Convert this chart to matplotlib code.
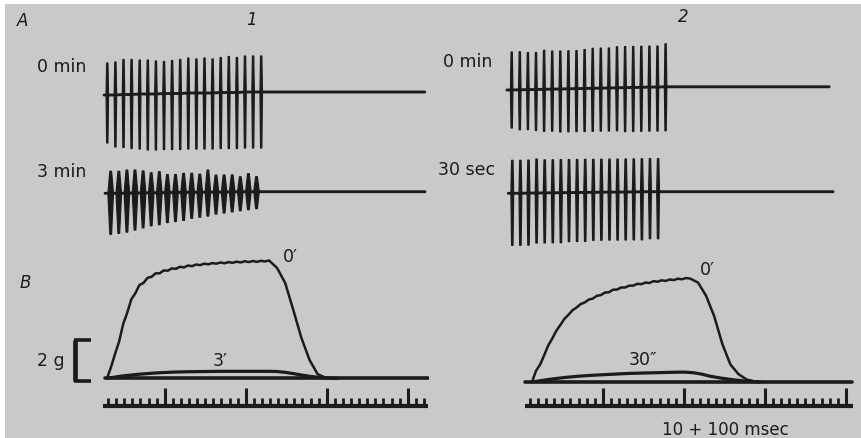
import matplotlib
matplotlib.use("Agg")
import matplotlib.pyplot as plt

# ---------------- figure / style ----------------
W, H, DPI = 862, 438, 100
BG = "#c9c9c9"
INK = "#1b1b1b"
PX_PER_MS = 0.81      # horizontal scale (pixels per ms)
PX_PER_G = 20.5       # tension scale (pixels per gram)
PX_PER_UNIT = 1.0     # spike amplitude scale (pixels per arbitrary unit)

# ---------------- data: panel A (spike trains, arb. units) ----------------
stim_interval_ms = 10

a1_0_up = [32, 33, 35, 35, 34, 34, 33, 32, 33, 34, 35, 34, 35, 34, 35, 36, 35, 36, 36, 36]
a1_0_down = [-48, -52, -53, -54, -55, -56, -56, -56, -56, -56, -56, -56, -56, -56, -56, -56, -56, -56, -56, -56]
a1_0_base = [0, 0, 0.5, 0.5, 1, 1, 1, 1.5, 1.5, 1.5, 2, 2, 2, 2, 2.5, 2.5, 2.5, 3, 3, 3]
a1_0_window = (-4, 392)

a1_3_up = [22, 22, 23, 23, 22, 20, 21, 18, 18, 19, 19, 18, 22, 17, 17, 17, 15, 18, 15]
a1_3_down = [-41, -40, -39, -37, -35, -33, -32, -30, -29, -28, -26, -25, -24, -22, -21, -20, -19, -18, -17]
a1_3_base = [0, 0, 0.2, 0.3, 0.4, 0.5, 0.6, 0.7, 0.8, 0.9, 1, 1.1, 1.2, 1.2, 1.3, 1.4, 1.5, 1.6, 1.6]
a1_3_window = (-7, 388)

a2_0_up = [38, 38, 37, 37, 39, 38, 38, 38, 38, 39, 40, 40, 40, 41, 41, 41, 41, 41, 41, 43]
a2_0_down = [-38, -40, -40, -41, -42, -42, -43, -43, -43, -43, -43, -43, -43, -43, -44, -44, -44, -44, -44, -44]
a2_0_base = [0, 0.2, 0.4, 0.5, 0.7, 0.9, 1, 1.2, 1.4, 1.5, 1.7, 1.9, 2, 2.2, 2.4, 2.5, 2.7, 2.9, 3, 3.2]
a2_0_window = (-6, 392)

a2_30_up = [33, 33, 33, 34, 33, 33, 33, 33, 33, 33, 33, 33, 33, 33, 33, 33, 33, 33, 33]
a2_30_down = [-52, -52, -52, -50, -50, -50, -50, -49, -49, -49, -48, -48, -48, -48, -48, -48, -48, -47, -47]
a2_30_base = [0, 0, 0.2, 0.3, 0.4, 0.5, 0.6, 0.7, 0.8, 0.9, 1, 1.1, 1.2, 1.2, 1.3, 1.4, 1.5, 1.6, 1.6]
a2_30_window = (-5, 396)

# ---------------- data: panel B (tension, g; time, ms) ----------------
b1_0_t = [0, 5, 10, 15, 20, 25, 30, 35, 40, 45, 50, 55, 60, 65, 70, 75, 80, 85, 90, 95,
          100, 105, 110, 115, 120, 125, 130, 135, 140, 145, 150, 155, 160, 165, 170, 175,
          180, 185, 190, 195, 200, 210, 220, 230, 240, 250, 260, 270, 280]
b1_0_g = [0.00, 0.55, 1.20, 1.80, 2.65, 3.20, 3.85, 4.15, 4.55, 4.65, 4.90, 4.95, 5.12, 5.12,
          5.26, 5.25, 5.36, 5.34, 5.44, 5.41, 5.50, 5.47, 5.55, 5.52, 5.59, 5.56, 5.62, 5.59,
          5.65, 5.61, 5.67, 5.63, 5.69, 5.65, 5.71, 5.67, 5.72, 5.68, 5.73, 5.70, 5.75,
          5.38, 4.65, 3.33, 1.97, 0.90, 0.20, 0.03, 0.00]
b1_3_t = [0, 20, 40, 60, 80, 100, 120, 140, 160, 180, 200, 210, 220, 230, 240, 250, 260, 270, 285]
b1_3_g = [0, 0.12, 0.20, 0.26, 0.30, 0.32, 0.33, 0.34, 0.34, 0.34, 0.34, 0.33, 0.29, 0.23,
          0.16, 0.10, 0.05, 0.02, 0]
b1_window = (-2.5, 396)

b2_0_t = [0, 5, 10, 15, 20, 25, 30, 35, 40, 45, 50, 55, 60, 65, 70, 75, 80, 85, 90, 95,
          100, 105, 110, 115, 120, 125, 130, 135, 140, 145, 150, 155, 160, 165, 170, 175,
          180, 185, 190, 195, 205, 215, 225, 235, 245, 255, 265, 275, 285]
b2_0_g = [0.00, 0.55, 0.85, 1.30, 1.78, 2.12, 2.50, 2.78, 3.08, 3.28, 3.50, 3.63, 3.80, 3.88,
          4.02, 4.07, 4.20, 4.24, 4.36, 4.38, 4.50, 4.51, 4.61, 4.61, 4.70, 4.70, 4.79, 4.77,
          4.85, 4.83, 4.92, 4.89, 4.96, 4.93, 5.00, 4.97, 5.04, 5.01, 5.07, 5.05,
          4.85, 4.20, 3.20, 1.85, 0.85, 0.38, 0.12, 0.03, 0.00]
b2_30_t = [0, 20, 40, 60, 80, 100, 120, 140, 160, 180, 190, 200, 210, 220, 235, 250, 265, 280]
b2_30_g = [0, 0.12, 0.22, 0.29, 0.34, 0.38, 0.42, 0.44, 0.46, 0.48, 0.48, 0.45, 0.38, 0.28,
           0.18, 0.10, 0.04, 0]
b2_window = (-8.6, 395)

# time markers (ms): 10 ms ticks, 100 ms ticks
b1_marker_ticks = list(range(0, 400, 10))
b1_marker_big = [70, 170, 270, 370]
b1_marker_window = (-6, 395)
b2_marker_ticks = list(range(0, 400, 10))
b2_marker_big = [90, 190, 290, 390]
b2_marker_window = (-6, 399)

scale_bar_g = 2

# ---------------- helpers ----------------
fig = plt.figure(figsize=(W / DPI, H / DPI), dpi=DPI, facecolor="white")

bg = fig.add_axes([0, 0, 1, 1])
bg.set_xlim(0, W)
bg.set_ylim(H, 0)
bg.axis("off")
bg.add_patch(plt.Rectangle((5, 4), W - 5, H - 4, facecolor=BG, edgecolor="none"))


def trace_axes(x0, y0, tmin, tmax, vmin, vmax, sx, sy):
    """Axes whose data (t, v) map with origin at pixel (x0, y0)."""
    left = x0 + tmin * sx
    right = x0 + tmax * sx
    top = y0 - vmax * sy
    bottom = y0 - vmin * sy
    ax = fig.add_axes([left / W, 1 - bottom / H, (right - left) / W, (bottom - top) / H])
    ax.set_xlim(tmin, tmax)
    ax.set_ylim(vmin, vmax)
    ax.axis("off")
    ax.patch.set_alpha(0)
    return ax


def spike_trace(x0, y0, up, down, base, window, half_w, tip_frac, lw=1.6):
    ax = trace_axes(x0, y0, window[0] - 2, window[1] + 2, -70, 50, PX_PER_MS, PX_PER_UNIT)
    ts = [i * stim_interval_ms for i in range(len(up))]
    bt = [window[0]] + ts + [window[1]]
    bv = [base[0]] + list(base) + [base[-1]]
    ax.plot(bt, bv, color=INK, lw=lw * 1.3, solid_capstyle="round", clip_on=False)
    for t, u, d, b in zip(ts, up, down, base):
        for tip in (u, d):
            xs = [t - half_w, t - tip_frac * half_w, t + tip_frac * half_w, t + half_w]
            ys = [b, b + tip, b + tip, b]
            ax.fill(xs, ys, color=INK, lw=0.9, edgecolor=INK, joinstyle="round",
                    clip_on=False)
    return ax


# ---------------- panel A ----------------
spike_trace(107.3, 95.0, a1_0_up, a1_0_down, a1_0_base, a1_0_window, 1.5, 0.5)
spike_trace(110.7, 193.3, a1_3_up, a1_3_down, a1_3_base, a1_3_window, 3.4, 0.3)
spike_trace(511.7, 90.0, a2_0_up, a2_0_down, a2_0_base, a2_0_window, 1.5, 0.5)
spike_trace(512.3, 193.3, a2_30_up, a2_30_down, a2_30_base, a2_30_window, 1.7, 0.5)


# ---------------- panel B ----------------
def tension_panel(x0, y0, t0, g0, t1, g1, window):
    ax = trace_axes(x0, y0, -50, window[1] + 2, -0.5, 6.5, PX_PER_MS, PX_PER_G)
    ax.plot([window[0], window[1]], [0, 0], color=INK, lw=2.6, solid_capstyle="round")
    ax.plot(t0, g0, color=INK, lw=1.8, solid_joinstyle="round", solid_capstyle="round")
    ax.plot(t1, g1, color=INK, lw=2.3, solid_joinstyle="round", solid_capstyle="round")
    return ax


axb1 = tension_panel(107.0, 378.3, b1_0_t, b1_0_g, b1_3_t, b1_3_g, b1_window)
tension_panel(532.0, 382.0, b2_0_t, b2_0_g, b2_30_t, b2_30_g, b2_window)

# 2 g scale bracket (in B1 data units)
bx = -39.5
axb1.plot([bx, bx], [-0.15, -0.15 + scale_bar_g], color=INK, lw=3.4,
          solid_capstyle="butt", clip_on=False)
axb1.plot([bx - 1.5, -20], [-0.15 + scale_bar_g] * 2, color=INK, lw=2.6,
          solid_capstyle="butt", clip_on=False)
axb1.plot([bx - 1.5, -20], [-0.15, -0.15], color=INK, lw=2.6,
          solid_capstyle="butt", clip_on=False)


def time_marker(x0, y0, ticks, big, window):
    ax = trace_axes(x0, y0, window[0] - 1, window[1] + 1, -5, 25, PX_PER_MS, 1.0)
    ax.plot([window[0], window[1]], [0, 0], color=INK, lw=3.0, solid_capstyle="butt")
    small = [t for t in ticks if t not in big]
    ax.vlines(small, 0, 8, color=INK, lw=2.0)
    ax.vlines(big, 0, 18, color=INK, lw=2.2)
    return ax


time_marker(108.0, 406.0, b1_marker_ticks, b1_marker_big, b1_marker_window)
time_marker(530.0, 406.0, b2_marker_ticks, b2_marker_big, b2_marker_window)

# ---------------- text ----------------
FS = 12.5
txt = dict(color=INK, va="baseline")
bg.text(17, 26, "A", fontsize=12, style="italic", ha="left", **txt)
bg.text(252, 25, "1", fontsize=12, style="italic", ha="center", **txt)
bg.text(683, 22, "2", fontsize=12, style="italic", ha="center", **txt)
bg.text(37, 72, "0 min", fontsize=FS, ha="left", **txt)
bg.text(37, 177, "3 min", fontsize=FS, ha="left", **txt)
bg.text(443, 67, "0 min", fontsize=FS, ha="left", **txt)
bg.text(438, 175, "30 sec", fontsize=FS, ha="left", **txt)
bg.text(20, 288, "B", fontsize=12, style="italic", ha="left", **txt)
bg.text(283, 262, "0\u2032", fontsize=FS, ha="left", **txt)
bg.text(213, 366, "3\u2032", fontsize=FS, ha="left", **txt)
bg.text(37, 366, "2 g", fontsize=FS, ha="left", **txt)
bg.text(700, 275, "0\u2032", fontsize=FS, ha="left", **txt)
bg.text(629, 365, "30\u2033", fontsize=FS, ha="left", **txt)
bg.text(725, 435, "10 + 100 msec", fontsize=12, ha="center", **txt)

fig.savefig("out.png", dpi=DPI, facecolor="white")
